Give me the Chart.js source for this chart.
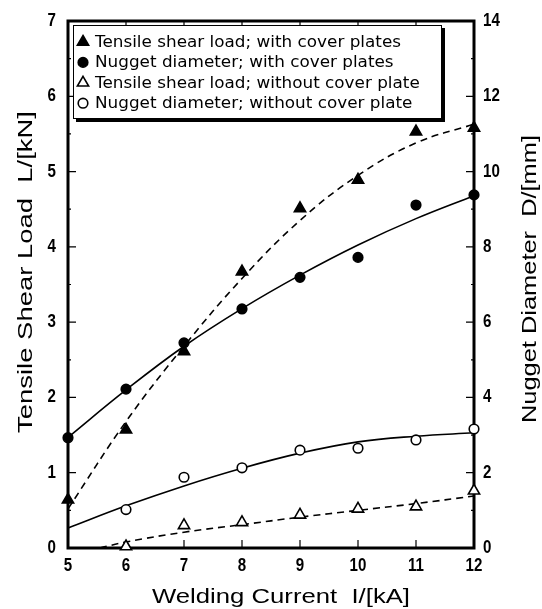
<!DOCTYPE html>
<html>
<head>
<meta charset="utf-8">
<script src="https://cdn.jsdelivr.net/npm/chart.js@4.4.1/dist/chart.umd.min.js"></script>
<style>
    html, body { margin: 0; padding: 0; background: #fff; }
    #wrap { width: 542px; height: 609px; }
</style>
</head>
<body>
<div id="wrap"><canvas id="weldChart" width="542" height="609"></canvas></div>
<script>
// Measured points
const currents = [5, 6, 7, 8, 9, 10, 11, 12];
const currentsNoCover = [6, 7, 8, 9, 10, 11, 12];
const loadWithCover = [0.64, 1.57, 2.61, 3.67, 4.51, 4.89, 5.53, 5.58];      // kN
const diameterWithCover = [2.93, 4.22, 5.45, 6.35, 7.19, 7.72, 9.11, 9.38];  // mm
const loadNoCover = [0.02, 0.30, 0.34, 0.44, 0.52, 0.55, 0.76];               // kN
const diameterNoCover = [1.02, 1.88, 2.13, 2.60, 2.65, 2.87, 3.16];           // mm

// Fitted curves
const fitCurrents = [5, 6, 7, 8, 9, 10, 11, 12];
const loadWithCoverFit = [0.52, 1.68, 2.68, 3.58, 4.35, 4.95, 5.38, 5.63];
const diameterWithCoverFit = [2.94, 4.20, 5.36, 6.36, 7.25, 8.05, 8.75, 9.36];
const diameterNoCoverFit = [0.53, 1.12, 1.65, 2.12, 2.52, 2.82, 2.97, 3.06];
const loadNoCoverFitCurrents = [5.55, 6, 7, 8, 9, 10, 11, 12];
const loadNoCoverFit = [0, 0.08, 0.21, 0.31, 0.41, 0.50, 0.59, 0.69];

// Axis ticks
const xTicks = [5, 6, 7, 8, 9, 10, 11, 12];
const loadTicks = [0, 1, 2, 3, 4, 5, 6, 7];
const diameterTicks = [0, 2, 4, 6, 8, 10, 12, 14];

const legendLabels = [
    'Tensile shear load; with cover plates',
    'Nugget diameter; with cover plates',
    'Tensile shear load; without cover plate',
    'Nugget diameter; without cover plate'
];

const toXY = (xs, ys) => xs.map((x, i) => ({ x: x, y: ys[i] }));

const TICK_FONT = 'bold 18px "Liberation Sans Narrow", "Liberation Sans", Arial, sans-serif';
const TITLE_FONT = '21px "Liberation Sans", Arial, sans-serif';
const LEGEND_FONT = '15px "DejaVu Sans", sans-serif';

// text squeezed / stretched along its own baseline to a given width
function fillFitted(ctx, text, x, y, width) {
    const w = ctx.measureText(text).width;
    ctx.save();
    ctx.translate(x, y);
    ctx.scale(width / w, 1);
    ctx.fillText(text, 0, 0);
    ctx.restore();
}

function fillScaled(ctx, text, x, y, sx) {
    ctx.save();
    ctx.translate(x, y);
    ctx.scale(sx, 1);
    ctx.fillText(text, 0, 0);
    ctx.restore();
}

function drawMarker(ctx, style, filled, x, y) {
    ctx.save();
    ctx.beginPath();
    if (style === 'triangle') {
        const r = 6.5;
        ctx.moveTo(x, y - r);
        ctx.lineTo(x + r * 0.866, y + r * 0.5);
        ctx.lineTo(x - r * 0.866, y + r * 0.5);
        ctx.closePath();
    } else {
        ctx.arc(x, y, 4.8, 0, Math.PI * 2);
    }
    ctx.lineWidth = 1.6;
    ctx.strokeStyle = '#000';
    ctx.fillStyle = filled ? '#000' : '#fff';
    ctx.fill();
    ctx.stroke();
    ctx.restore();
}

const framePlugin = {
    id: 'frame',
    beforeDatasetsDraw(chart) {
        const { ctx, chartArea: a, scales } = chart;
        ctx.save();
        ctx.strokeStyle = '#000';
        ctx.lineWidth = 3;
        ctx.strokeRect(a.left, a.top, a.right - a.left, a.bottom - a.top);

        ctx.lineWidth = 1.2;
        ctx.beginPath();
        xTicks.forEach(v => {
            const px = scales.x.getPixelForValue(v);
            ctx.moveTo(px, a.bottom); ctx.lineTo(px, a.bottom - 8);
            ctx.moveTo(px, a.top); ctx.lineTo(px, a.top + 8);
        });
        loadTicks.forEach(v => {
            const py = scales.yL.getPixelForValue(v);
            ctx.moveTo(a.left, py); ctx.lineTo(a.left + 8, py);
            if (v < 7) {
                const pm = scales.yL.getPixelForValue(v + 0.5);
                ctx.moveTo(a.left, pm); ctx.lineTo(a.left + 3, pm);
            }
        });
        diameterTicks.forEach(v => {
            const py = scales.yR.getPixelForValue(v);
            ctx.moveTo(a.right, py); ctx.lineTo(a.right - 8, py);
            if (v < 14) {
                const pm = scales.yR.getPixelForValue(v + 1);
                ctx.moveTo(a.right, pm); ctx.lineTo(a.right - 3, pm);
            }
        });
        ctx.stroke();

        // tick labels
        ctx.fillStyle = '#000';
        ctx.font = TICK_FONT;
        ctx.textBaseline = 'middle';
        ctx.textAlign = 'center';
        xTicks.forEach(v => fillScaled(ctx, String(v), scales.x.getPixelForValue(v), a.bottom + 18, 0.84));
        ctx.textAlign = 'right';
        loadTicks.forEach(v => fillScaled(ctx, String(v), a.left - 12, scales.yL.getPixelForValue(v), 0.84));
        ctx.textAlign = 'left';
        diameterTicks.forEach(v => fillScaled(ctx, String(v), a.right + 9, scales.yR.getPixelForValue(v), 0.84));
        ctx.restore();
    },
    afterDraw(chart) {
        const { ctx, chartArea: a } = chart;
        ctx.save();
        ctx.fillStyle = '#000';
        ctx.font = TITLE_FONT;
        ctx.textAlign = 'center';
        ctx.textBaseline = 'middle';
        fillFitted(ctx, 'Welding Current  I/[kA]', 281, a.bottom + 49, 258);

        ctx.save();
        ctx.translate(26, 272);
        ctx.rotate(-Math.PI / 2);
        fillFitted(ctx, 'Tensile Shear Load  L/[kN]', 0, 0, 322);
        ctx.restore();

        ctx.save();
        ctx.translate(530, 279);
        ctx.rotate(-Math.PI / 2);
        fillFitted(ctx, 'Nugget Diameter  D/[mm]', 0, 0, 288);
        ctx.restore();

        // legend box with drop shadow
        const bx = 73, by = 25, bw = 369, bh = 94;
        ctx.fillRect(bx + 3, by + 3, bw, bh);
        ctx.fillStyle = '#fff';
        ctx.fillRect(bx, by, bw, bh);
        ctx.lineWidth = 1;
        ctx.strokeStyle = '#000';
        ctx.strokeRect(bx + 0.5, by + 0.5, bw - 1, bh - 1);

        const markers = chart.data.datasets.filter(d => d.legend);
        ctx.font = LEGEND_FONT;
        ctx.textAlign = 'left';
        const sx = 306 / ctx.measureText(legendLabels[0]).width;
        markers.forEach((d, i) => {
            const ly = 42 + i * 20.4;
            drawMarker(ctx, d.pointStyle, d.pointBackgroundColor === '#000', 83, ly);
            ctx.fillStyle = '#000';
            fillScaled(ctx, d.label, 95, ly + 1, sx);
        });
        ctx.restore();
    }
};

const pointSet = (label, xs, ys, axis, style, filled) => ({
    label: label,
    legend: true,
    data: toXY(xs, ys),
    yAxisID: axis,
    showLine: false,
    pointStyle: style,
    pointRadius: style === 'triangle' ? 6.5 : 4.8,
    pointBackgroundColor: filled ? '#000' : '#fff',
    pointBorderColor: '#000',
    pointBorderWidth: 1.6,
    clip: false,
    order: 0
});

const curveSet = (xs, ys, axis, dashed) => ({
    data: toXY(xs, ys),
    yAxisID: axis,
    showLine: true,
    borderColor: '#000',
    borderWidth: 1.6,
    borderDash: dashed ? [7, 5] : [],
    tension: 0.4,
    pointRadius: 0,
    clip: false,
    order: 1
});

new Chart(document.getElementById('weldChart'), {
    type: 'scatter',
    data: {
        datasets: [
            curveSet(fitCurrents, loadWithCoverFit, 'yL', true),
            curveSet(fitCurrents, diameterWithCoverFit, 'yR', false),
            curveSet(fitCurrents, diameterNoCoverFit, 'yR', false),
            curveSet(loadNoCoverFitCurrents, loadNoCoverFit, 'yL', true),
            pointSet(legendLabels[0], currents, loadWithCover, 'yL', 'triangle', true),
            pointSet(legendLabels[1], currents, diameterWithCover, 'yR', 'circle', true),
            pointSet(legendLabels[2], currentsNoCover, loadNoCover, 'yL', 'triangle', false),
            pointSet(legendLabels[3], currentsNoCover, diameterNoCover, 'yR', 'circle', false)
        ]
    },
    options: {
        responsive: false,
        animation: false,
        layout: { padding: { left: 68, right: 68, top: 21, bottom: 61 } },
        plugins: {
            legend: { display: false },
            tooltip: { enabled: false }
        },
        scales: {
            x: { type: 'linear', min: 5, max: 12, display: false },
            yL: { type: 'linear', position: 'left', min: 0, max: 7, display: false },
            yR: { type: 'linear', position: 'right', min: 0, max: 14, display: false }
        }
    },
    plugins: [framePlugin]
});
</script>
</body>
</html>
